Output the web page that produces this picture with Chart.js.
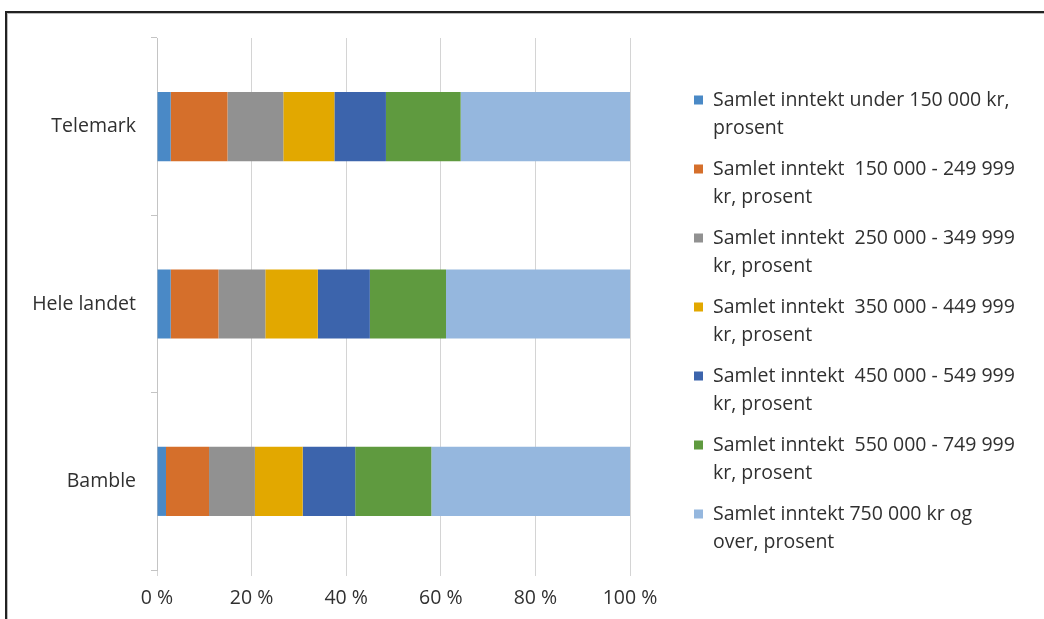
<!DOCTYPE html>
<html>
<head>
<meta charset="utf-8">
<script src="https://cdn.jsdelivr.net/npm/chart.js@4.4.1/dist/chart.umd.min.js"></script>
<style>
  html, body { margin: 0; padding: 0; background: #fff; }
  #wrap { position: relative; width: 1044px; height: 619px; overflow: hidden; }
  #wrap canvas { position: absolute; left: 0; top: 0; }
  #frame {
    position: absolute; left: 5px; top: 11px; width: 1100px; height: 700px;
    border-top: 2px solid #222; border-left: 2px solid #222;
    box-shadow: inset 1px 1px 0 #bbb; pointer-events: none;
  }
</style>
</head>
<body>
<div id="wrap">
  <canvas id="chart" width="1044" height="619"></canvas>
  <div id="frame"></div>
</div>
<script>
// Regions (bars, top to bottom)
const regions = ['Telemark', 'Hele landet', 'Bamble'];

// Income bracket names (legend), with their line breaks
const bracketNames = [
  'Samlet inntekt under 150 000 kr,\nprosent',
  'Samlet inntekt  150 000 - 249 999\nkr, prosent',
  'Samlet inntekt  250 000 - 349 999\nkr, prosent',
  'Samlet inntekt  350 000 - 449 999\nkr, prosent',
  'Samlet inntekt  450 000 - 549 999\nkr, prosent',
  'Samlet inntekt  550 000 - 749 999\nkr, prosent',
  'Samlet inntekt 750 000 kr og\nover, prosent'
];

// Share of households per bracket, percent (Telemark, Hele landet, Bamble)
const under150k   = [2.9, 2.9, 1.9];
const from150k    = [12.0, 10.1, 9.1];
const from250k    = [11.8, 9.9, 9.7];
const from350k    = [10.8, 11.1, 10.1];
const from450k    = [10.9, 11.0, 11.1];
const from550k    = [15.8, 16.1, 16.1];
const over750k    = [35.8, 38.9, 42.0];

// Axis ticks
const axisTicks = [0, 20, 40, 60, 80, 100];

const seriesValues = [under150k, from150k, from250k, from350k, from450k, from550k, over750k];
const seriesColors = ['#4A89C6', '#D56F2B', '#919191', '#E2A800', '#3C64AC', '#5F9A3F', '#95B7DE'];

const FONT_FAMILY = '"Open Sans", "Liberation Sans", sans-serif';
const FONT_SIZE = 19.5;
const TEXT_COLOR = '#303030';
const GRID_COLOR = '#d4d4d4';

// Legend drawn at the right of the plot, two lines per entry
const sideLegend = {
  id: 'sideLegend',
  afterDraw(chart) {
    const ctx = chart.ctx;
    const x0 = chart.chartArea.right + 64;
    let y = chart.chartArea.top + 62;
    ctx.save();
    ctx.font = FONT_SIZE + 'px ' + FONT_FAMILY;
    ctx.textBaseline = 'middle';
    ctx.textAlign = 'left';
    chart.data.datasets.forEach(ds => {
      ctx.fillStyle = ds.backgroundColor;
      ctx.fillRect(x0, y - 4.5, 9, 9);
      ctx.fillStyle = TEXT_COLOR;
      ds.label.split('\n').forEach((line, i) => ctx.fillText(line, x0 + 19, y + i * 28));
      y += 69;
    });
    ctx.restore();
  }
};

new Chart(document.getElementById('chart'), {
  type: 'bar',
  data: {
    labels: regions,
    datasets: bracketNames.map((name, i) => ({
      label: name,
      data: seriesValues[i],
      backgroundColor: seriesColors[i],
      borderWidth: 0,
      categoryPercentage: 1,
      barPercentage: 0.39
    }))
  },
  options: {
    indexAxis: 'y',
    responsive: false,
    animation: false,
    layout: { padding: { left: 0, top: 38, right: 414, bottom: 0 } },
    plugins: {
      legend: { display: false },
      tooltip: { enabled: false }
    },
    scales: {
      x: {
        stacked: true,
        min: 0,
        max: 100,
        afterBuildTicks(scale) { scale.ticks = axisTicks.map(v => ({ value: v })); },
        afterFit(scale) { scale.height = 49; },
        grid: { color: GRID_COLOR, lineWidth: 1, tickLength: 6, drawTicks: true },
        border: { display: false },
        ticks: {
          padding: 11,
          color: TEXT_COLOR,
          font: { family: FONT_FAMILY, size: FONT_SIZE }
        , callback: v => v + ' %'
        }
      },
      y: {
        stacked: true,
        afterFit(scale) { scale.width = 157; },
        grid: { drawOnChartArea: false, color: '#c4c4c4', tickLength: 6, offset: true },
        border: { display: true, color: '#c4c4c4', width: 1 },
        ticks: {
          padding: 15,
          color: TEXT_COLOR,
          font: { family: FONT_FAMILY, size: FONT_SIZE }
        }
      }
    }
  },
  plugins: [sideLegend]
});
</script>
</body>
</html>
